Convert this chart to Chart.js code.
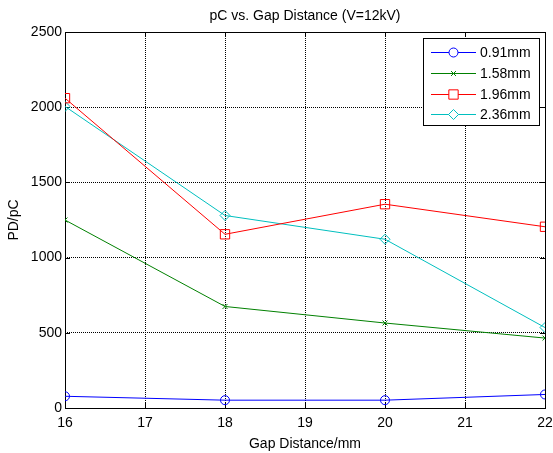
<!DOCTYPE html>
<html>
<head>
<meta charset="utf-8">
<script src="https://cdn.jsdelivr.net/npm/chart.js@4/dist/chart.umd.min.js"></script>
<style>
  html, body { margin: 0; padding: 0; background: #fff; }
  #wrap { width: 553px; height: 453px; }
</style>
</head>
<body>
<div id="wrap"><canvas id="pdChart" width="553" height="453"></canvas></div>
<script>
// ============================================================
// DATA
// ============================================================
const gaps = [16, 18, 20, 22];
const pd091 = [78, 52, 52, 90];
const pd158 = [1250, 675, 565, 465];
const pd196 = [2060, 1155, 1355, 1205];
const pd236 = [2005, 1280, 1122, 535];
const seriesNames = ['0.91mm', '1.58mm', '1.96mm', '2.36mm'];
const xTicks = [16, 17, 18, 19, 20, 21, 22];
const yTicks = [0, 500, 1000, 1500, 2000, 2500];

const FONT = 'Arial, "Liberation Sans", sans-serif';
const toPts = vals => gaps.map((g, i) => ({ x: g, y: vals[i] }));

const styles = [
  { color: '#0000ff', point: 'circle', r: 4.5 },
  { color: '#008000', point: 'crossRot', r: 3.5 },
  { color: '#ff0000', point: 'rect', r: 6.6 },
  { color: '#00bfbf', point: 'rectRot', r: 5 }
];

const datasets = [pd091, pd158, pd196, pd236].map((vals, i) => ({
  label: seriesNames[i],
  data: toPts(vals),
  borderColor: styles[i].color,
  backgroundColor: 'rgba(0,0,0,0)',
  borderWidth: 1,
  pointStyle: styles[i].point,
  pointRadius: styles[i].r,
  pointHoverRadius: styles[i].r,
  pointBorderWidth: 1,
  pointBorderColor: styles[i].color,
  pointBackgroundColor: 'rgba(0,0,0,0)',
  tension: 0
}));

// Box around plot area + inward tick marks (MATLAB style)
const framePlugin = {
  id: 'frame',
  beforeDatasetsDraw(chart) {
    const { ctx, chartArea: a, scales } = chart;
    ctx.save();
    ctx.strokeStyle = '#000';
    ctx.lineWidth = 1;
    ctx.beginPath();
    xTicks.forEach(t => {
      const px = Math.round(scales.x.getPixelForValue(t)) + 0.5;
      ctx.moveTo(px, a.bottom); ctx.lineTo(px, a.bottom - 5);
      ctx.moveTo(px, a.top); ctx.lineTo(px, a.top + 5);
    });
    yTicks.forEach(t => {
      const py = Math.round(scales.y.getPixelForValue(t)) + 0.5;
      ctx.moveTo(a.left, py); ctx.lineTo(a.left + 5, py);
      ctx.moveTo(a.right, py); ctx.lineTo(a.right - 5, py);
    });
    ctx.stroke();
    ctx.strokeRect(Math.round(a.left) + 0.5, Math.round(a.top) + 0.5,
      Math.round(a.right - a.left), Math.round(a.bottom - a.top));
    ctx.restore();
  }
};

// Legend box inside the plot, upper right
const legendPlugin = {
  id: 'boxLegend',
  afterDraw(chart) {
    const { ctx } = chart;
    const bx = 423, by = 38, bw = 116, bh = 87;
    ctx.save();
    ctx.fillStyle = '#fff';
    ctx.fillRect(bx, by, bw, bh);
    ctx.strokeStyle = '#000';
    ctx.lineWidth = 1;
    ctx.strokeRect(bx + 0.5, by + 0.5, bw, bh);
    ctx.font = '14px ' + FONT;
    ctx.textBaseline = 'middle';
    ctx.textAlign = 'left';
    chart.data.datasets.forEach((ds, i) => {
      const y = Math.round(52 + i * 20.8) + 0.5;
      ctx.strokeStyle = ds.borderColor;
      ctx.lineWidth = 1;
      ctx.beginPath();
      ctx.moveTo(431, y);
      ctx.lineTo(476, y);
      ctx.stroke();
      ctx.fillStyle = '#fff';
      Chart.helpers.drawPoint(ctx, {
        pointStyle: ds.pointStyle, radius: ds.pointRadius, borderWidth: 1, rotation: 0
      }, 453.5, y);
      ctx.fillStyle = '#000';
      ctx.fillText(ds.label, 480, y + 0.5);
    });
    ctx.restore();
  }
};

const gridDash = { color: '#000', lineWidth: 1, drawTicks: false };

new Chart(document.getElementById('pdChart').getContext('2d'), {
  type: 'line',
  data: { datasets },
  plugins: [framePlugin, legendPlugin],
  options: {
    responsive: false,
    animation: false,
    devicePixelRatio: 1,
    layout: { padding: { left: 0, right: 8, top: 0, bottom: 0 } },
    plugins: {
      legend: { display: false },
      tooltip: { enabled: false },
      title: {
        display: true,
        text: 'pC vs. Gap Distance (V=12kV)',
        fullSize: false,
        color: '#000',
        font: { family: FONT, size: 14, weight: 'normal', lineHeight: 1.2 },
        padding: { top: 7.6, bottom: 7.6 }
      }
    },
    scales: {
      x: {
        type: 'linear',
        min: 16, max: 22,
        afterBuildTicks: s => { s.ticks = xTicks.map(v => ({ value: v })); },
        afterFit: s => { s.height = 45; s.paddingLeft = 0; s.paddingRight = 0; },
        border: { display: false, dash: [1, 1] },
        grid: { ...gridDash },
        ticks: { color: '#000', padding: 7, maxRotation: 0, font: { family: FONT, size: 14 } },
        title: {
          display: true, text: 'Gap Distance/mm', color: '#000',
          font: { family: FONT, size: 14, lineHeight: 1.2 }, padding: { top: 0, bottom: 0 }
        }
      },
      y: {
        min: 0, max: 2500,
        afterBuildTicks: s => { s.ticks = yTicks.map(v => ({ value: v })); },
        afterFit: s => { s.width = 65; s.paddingTop = 0; s.paddingBottom = 0; },
        border: { display: false, dash: [1, 1] },
        grid: { ...gridDash },
        ticks: { color: '#000', padding: 3, font: { family: FONT, size: 14 }, callback: v => String(v) },
        title: {
          display: true, text: 'PD/pC', color: '#000',
          font: { family: FONT, size: 14, lineHeight: 1.2 }, padding: { top: 6, bottom: 0 }
        }
      }
    }
  }
});
</script>
</body>
</html>
